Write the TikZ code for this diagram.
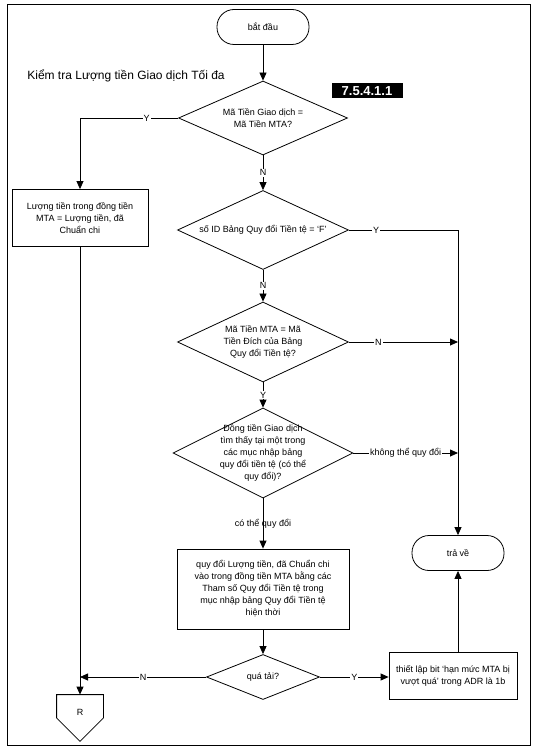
\documentclass[tikz,border=0pt]{standalone}
\usepackage{fontspec}
\setmainfont{Liberation Sans}
\usetikzlibrary{positioning,arrows.meta,shapes.geometric}

\begin{document}
\begin{tikzpicture}[
  x=1pt, y=-1pt,
  every node/.style={font=\fontsize{9}{12}\selectfont},
  term/.style={rectangle, draw, rounded corners=17pt, minimum width=92pt, minimum height=35pt},
  box/.style={rectangle, draw, align=center},
  dec/.style={diamond, draw, align=center, inner sep=0pt, aspect=2},
  arr/.style={-{Triangle[length=8pt, width=7pt]}},
  lbl/.style={fill=white, inner sep=1pt},
  line width=0.8pt
]
  \useasboundingbox (0,0) rectangle (538,751);
  \draw (7,4) rectangle (530,745);

  \node[term] (start) at (263,27) {bắt đầu};
  \node[font=\fontsize{12}{14}\selectfont] (title) at (126,76) {Kiểm tra Lượng tiền Giao dịch Tối đa};
  \node[fill=black, text=white, font=\fontsize{13}{15}\selectfont\bfseries, minimum width=71pt, minimum height=15pt, inner sep=0pt] (tag) at (367,91) {7.5.4.1.1};

  \node[dec, minimum width=169pt, minimum height=74pt] (qsame)   at (263,118) {Mã Tiền Giao dịch =\\Mã Tiền MTA?};
  \node[box, minimum width=136pt, minimum height=57pt] (mtaamt)  at (80,218)  {Lượng tiền trong đồng tiền\\MTA = Lượng tiền, đã\\Chuẩn chi};
  \node[dec, minimum width=171pt, minimum height=79pt] (qflag)   at (263,230) {số ID Bảng Quy đổi Tiền tệ = `F'};
  \node[dec, minimum width=171pt, minimum height=80pt] (qtarget) at (263,342) {Mã Tiền MTA = Mã\\Tiền Đích của Bảng\\Quy đổi Tiền tệ?};
  \node[dec, minimum width=180pt, minimum height=90pt, inner xsep=-20pt, inner ysep=-12pt] (qfound) at (263,453)
    {Đồng tiền Giao dịch\\tìm thấy tại một trong\\các mục nhập bảng\\quy đổi tiền tệ (có thể\\quy đổi)?};
  \node[box, minimum width=172pt, minimum height=80pt] (convert) at (263,589)
    {quy đổi Lượng tiền, đã Chuẩn chi\\vào trong đồng tiền MTA bằng các\\Tham số Quy đổi Tiền tệ trong\\mục nhập bảng Quy đổi Tiền tệ\\hiện thời};
  \node[dec, minimum width=113pt, minimum height=45pt] (over)    at (263,677) {quá tải?};
  \node[box, minimum width=128pt, minimum height=47pt] (setbit)  at (453,676) {thiết lập bit `hạn mức MTA bị\\vượt quá' trong ADR là 1b};
  \node[term] (ret) at (458,553) {trả về};

  % off-page connector
  \node[minimum width=46pt, minimum height=46pt, inner sep=0pt, text height=6.5pt, text depth=12pt] (offpg) at (80,718) {R};
  \draw (offpg.north west) -- (offpg.west) -- (offpg.south) -- (offpg.east) -- (offpg.north east) -- cycle;

  \draw[arr] (start) -- (qsame);
  \draw[arr] (qsame.west) -| node[lbl, pos=0.16] {Y} (mtaamt.north);
  \draw[arr] (qsame) -- node[lbl] {N} (qflag);
  \draw[arr] (qflag.east) -- node[lbl, pos=0.25] {Y} (qflag.east -| ret.north) -- (ret.north);
  \draw[arr] (qflag) -- node[lbl] {N} (qtarget);
  \draw[arr] (qtarget.east) -- node[lbl, pos=0.27] {N} (qtarget.east -| ret.north);
  \draw[arr] (qtarget) -- node[lbl] {Y} (qfound);
  \draw[arr] (qfound.east) -- node[lbl] {không thể quy đổi} (qfound.east -| ret.north);
  \draw[arr] (qfound) -- node {có thể quy đổi} (convert);
  \draw[arr] (convert) -- (over);
  \draw[arr] (over.west) -- node[lbl] {N} (over.west -| mtaamt.south);
  \draw[arr] (over.east) -- node[lbl] {Y} (over.east -| setbit.west);
  \draw[arr] (setbit.north -| ret.south) -- (ret.south);
  \draw[arr] (mtaamt) -- (offpg);
\end{tikzpicture}
\end{document}
